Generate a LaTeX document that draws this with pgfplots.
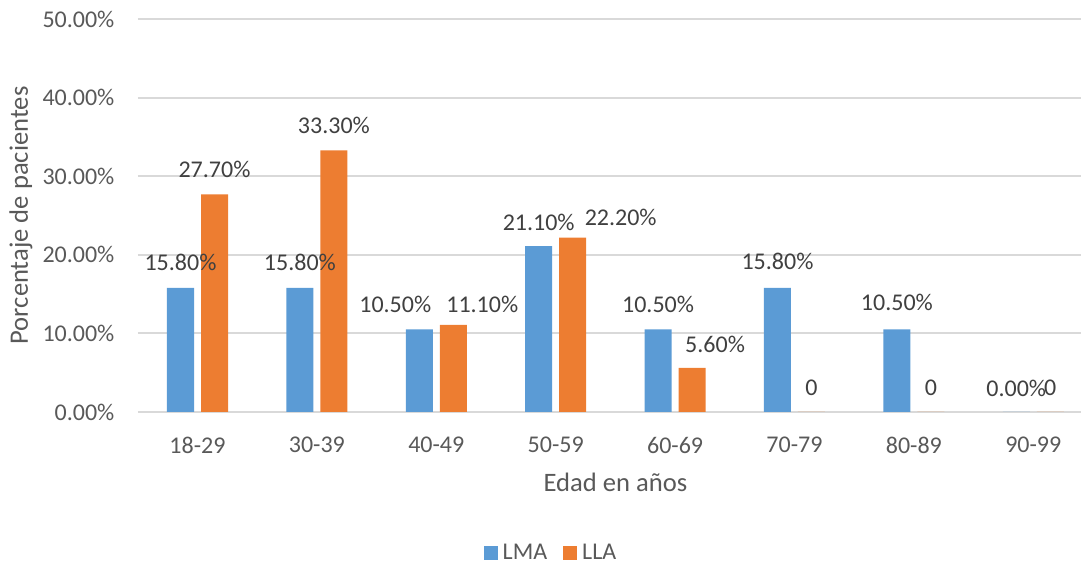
\documentclass[border=0pt]{standalone}
\usepackage{fontspec}
\setmainfont{Carlito}
\usepackage{pgfplots}
\usepackage{pgfplotstable}
\pgfplotsset{compat=1.18}

\definecolor{lmablue}{HTML}{5B9BD5}
\definecolor{llaorange}{HTML}{ED7D31}
\definecolor{gridgray}{HTML}{D9D9D9}
\definecolor{ticktext}{HTML}{595959}
\definecolor{labeltext}{HTML}{404040}

% age group index, LMA %, LLA %, label offsets (dx, dy) for each series
\pgfplotstableread{
x   lma   lla   dxa  dya  dxb  dyb
0   15.8  27.7    0   25    0   25
1   15.8  33.3    0   25    0   25
2   10.5  11.1  -24   25   29   20
3   21.1  22.2    0   24   48   20
4   10.5   5.6    0   25   23   24
5   15.8   0.0    0   26    0   24
6   10.5   0.0    0   27    0   24
7    0.0   0.0    0   24    0   24
}\edad

\begin{document}
\begin{tikzpicture}
\useasboundingbox (0,0) rectangle (540.5pt,283pt);
\begin{axis}[
  at={(68.9pt,77pt)}, anchor=south west,
  scale only axis,
  width=477.6pt, height=196.5pt,
  xmin=-0.5, xmax=7.5,
  ymin=0, ymax=50,
  ytick={0,10,...,50},
  xtick={0,...,7},
  xticklabels={18-29,30-39,40-49,50-59,60-69,70-79,80-89,90-99},
  major tick length=0pt,
  axis line style={draw=none},
  ymajorgrids,
  major grid style={gridgray, line width=1pt},
  yticklabel={\pgfmathprintnumber[fixed,fixed zerofill,precision=2,assume math mode=true]{\tick}\%},
  ticklabel style={font=\fontsize{12}{14}\selectfont, text=ticktext, inner sep=0pt},
  yticklabel style={anchor=east, xshift=-11.5pt},
  xticklabel style={anchor=center, yshift=-16.5pt},
  xlabel={Edad en años},
  ylabel={Porcentaje de pacientes},
  label style={font=\fontsize{13.3}{16}\selectfont, text=ticktext, inner sep=0pt},
  xlabel style={at={(axis description cs:0.5,0)}, anchor=center, yshift=-35pt},
  ylabel style={at={(axis description cs:0,0.5)}, anchor=center, rotate=0, yshift=58.5pt},
  ybar, bar width=13.5pt,
  clip=false,
  nodes near coords style={font=\fontsize{12}{14}\selectfont, text=labeltext, inner sep=0pt},
  legend columns=2,
  legend style={
    draw=none, fill=none,
    at={(0.4315,-0.3588)}, anchor=center,
    font=\fontsize{12}{14}\selectfont, text=ticktext,
    nodes={inner sep=0pt},
    /tikz/every even column/.append style={column sep=8pt},
  },
  legend image code/.code={\fill[#1] (0pt,-3.5pt) rectangle (7pt,3.5pt);\path (9.5pt,0pt);},
]
\addplot[fill=lmablue, draw=none, bar shift=-8.5pt,
  visualization depends on={\thisrow{dxa} \as \dx},
  visualization depends on={\thisrow{dya} \as \dy},
  nodes near coords={\pgfmathprintnumber[fixed,fixed zerofill,precision=2,assume math mode=true]{\pgfplotspointmeta}\%},
  every node near coord/.append style={anchor=center, xshift={0.5pt*\dx}, yshift={0.5pt*\dy}},
] table[x=x, y=lma] {\edad};
\addlegendentry{LMA}
\addplot[fill=llaorange, draw=none, bar shift=8.5pt,
  visualization depends on={\thisrow{dxb} \as \dx},
  visualization depends on={\thisrow{dyb} \as \dy},
  nodes near coords={\pgfmathfloatifflags{\pgfplotspointmeta}{0}{0}{\pgfmathprintnumber[fixed,fixed zerofill,precision=2,assume math mode=true]{\pgfplotspointmeta}\%}},
  every node near coord/.append style={anchor=center, xshift={0.5pt*\dx}, yshift={0.5pt*\dy}},
] table[x=x, y=lla] {\edad};
\addlegendentry{LLA}
\end{axis}
\end{tikzpicture}
\end{document}
